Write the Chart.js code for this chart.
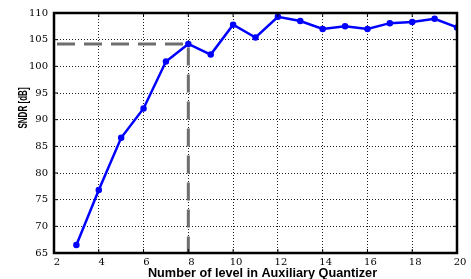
<!DOCTYPE html>
<html>
<head>
<meta charset="utf-8">
<script src="https://cdn.jsdelivr.net/npm/chart.js@4/dist/chart.umd.min.js"></script>
<style>
  html, body { margin: 0; padding: 0; background: #fff; }
  #wrap { width: 471px; height: 279px; }
</style>
</head>
<body>
<div id="wrap"><canvas id="sndrChart" width="471" height="279"></canvas></div>
<script>
// levels in the auxiliary quantizer and measured SNDR
const levels = [3, 4, 5, 6, 7, 8, 9, 10, 11, 12, 13, 14, 15, 16, 17, 18, 19, 20];
const sndr = [66.5, 76.8, 86.6, 92.1, 100.9, 104.2, 102.2, 107.8, 105.4, 109.3, 108.5, 107.0, 107.5, 107.0, 108.1, 108.3, 108.9, 107.3];
// chosen operating point (dashed marker lines)
const markerX = [2, 8, 8];
const markerY = [104.2, 104.2, 65];
const xTicks = [2, 4, 6, 8, 10, 12, 14, 16, 18, 20];
const yTicks = [65, 70, 75, 80, 85, 90, 95, 100, 105, 110];
const xTitle = 'Number of level in Auxiliary Quantizer';
const yTitle = 'SNDR [dB]';

(function () {
    const ctx = document.getElementById('sndrChart').getContext('2d');

    // box around the plot, inward tick marks, and both axis titles
    const frame = {
        id: 'frame',
        afterDraw(chart) {
            const a = chart.chartArea;
            const c = chart.ctx;
            const sx = chart.scales.x, sy = chart.scales.y;
            c.save();
            c.strokeStyle = '#000';
            c.lineWidth = 1;
            c.beginPath();
            xTicks.forEach(v => {
                const px = sx.getPixelForValue(v);
                c.moveTo(px, a.bottom); c.lineTo(px, a.bottom - 4);
                c.moveTo(px, a.top); c.lineTo(px, a.top + 4);
            });
            yTicks.forEach(v => {
                const py = sy.getPixelForValue(v);
                c.moveTo(a.left, py); c.lineTo(a.left + 4, py);
                c.moveTo(a.right, py); c.lineTo(a.right - 4, py);
            });
            c.stroke();
            c.lineWidth = 2.5;
            c.strokeRect(a.left, a.top, a.right - a.left, a.bottom - a.top);

            c.fillStyle = '#000';
            c.textAlign = 'center';

            // x title (sits a little right of centre in the original)
            c.font = 'bold 12.7px "Liberation Sans"';
            c.textBaseline = 'alphabetic';
            c.fillText(xTitle, (a.left + a.right) / 2 + 7, 276.5);

            // y title, squeezed like the original
            c.translate(23, 108);
            c.rotate(-Math.PI / 2);
            c.scale(0.62, 1);
            c.font = 'bold 13px "Liberation Sans"';
            c.textBaseline = 'middle';
            c.fillText(yTitle, 0, 0);
            c.restore();
        }
    };

    new Chart(ctx, {
        type: 'line',
        data: {
            datasets: [{
                data: levels.map((x, i) => ({ x: x, y: sndr[i] })),
                borderColor: '#0000ff',
                backgroundColor: '#0000ff',
                borderWidth: 2.5,
                pointRadius: 2,
                pointHoverRadius: 2,
                tension: 0,
                order: 1
            }, {
                data: markerX.map((x, i) => ({ x: x, y: markerY[i] })),
                borderColor: '#6e6e6e',
                borderWidth: 3,
                borderDash: [18, 9],
                borderDashOffset: -3,
                pointRadius: 0,
                tension: 0,
                order: 2
            }]
        },
        options: {
            responsive: false,
            animation: false,
            layout: { padding: { top: 13, right: 14, left: 0, bottom: 0 } },
            plugins: { legend: { display: false }, tooltip: { enabled: false } },
            scales: {
                x: {
                    type: 'linear',
                    min: 2,
                    max: 20,
                    afterBuildTicks: s => { s.ticks = xTicks.map(v => ({ value: v })); },
                    grid: { color: '#222', lineWidth: 1, drawTicks: false },
                    border: { display: false, dash: [1, 2] },
                    ticks: {
                        padding: 3,
                        labelOffset: 3,
                        color: '#000',
                        font: { family: 'DejaVu Serif', size: 10 }
                    },
                    title: { display: false },
                    afterFit: s => { s.height = 26; }
                },
                y: {
                    min: 65,
                    max: 110,
                    afterBuildTicks: s => { s.ticks = yTicks.map(v => ({ value: v })); },
                    grid: { color: '#222', lineWidth: 1, drawTicks: false },
                    border: { display: false, dash: [1, 2] },
                    ticks: {
                        padding: 6,
                        color: '#000',
                        font: { family: 'DejaVu Serif', size: 10 }
                    },
                    title: { display: false },
                    afterFit: s => { s.width = 54; }
                }
            }
        },
        plugins: [frame]
    });
})();
</script>
</body>
</html>
